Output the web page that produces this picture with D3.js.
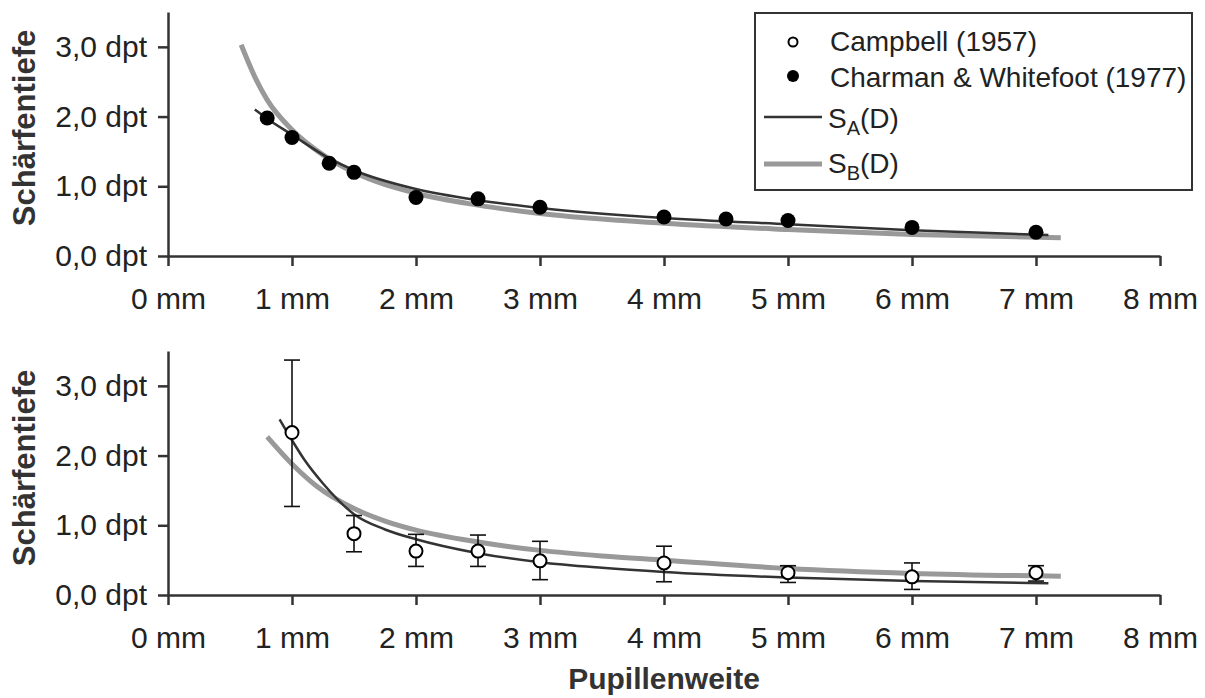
<!DOCTYPE html>
<html>
<head>
<meta charset="utf-8">
<script src="https://cdn.jsdelivr.net/npm/d3@7"></script>
<style>
  body { margin: 0; background: #fff; }
  text { font-family: "Liberation Sans", Arial, sans-serif; fill: #222; }
</style>
</head>
<body>
<div id="chart"></div>
<script>
var svgWidth = 1205;
var svgHeight = 698;

// tick values
var xTicks = [0, 1, 2, 3, 4, 5, 6, 7, 8];
var yTicks = [0, 1, 2, 3];

// Charman & Whitefoot (1977), top panel
var charmanD = [0.8, 1.0, 1.3, 1.5, 2.0, 2.5, 3.0, 4.0, 4.5, 5.0, 6.0, 7.0];
var charmanS = [1.98, 1.70, 1.33, 1.20, 0.84, 0.82, 0.70, 0.56, 0.53, 0.51, 0.41, 0.34];

// Campbell (1957), bottom panel, with error range
var campbellD = [1.0, 1.5, 2.0, 2.5, 3.0, 4.0, 5.0, 6.0, 7.0];
var campbellS = [2.33, 0.88, 0.63, 0.63, 0.49, 0.46, 0.32, 0.26, 0.32];
var campbellLo = [1.27, 0.62, 0.41, 0.41, 0.22, 0.19, 0.18, 0.08, 0.20];
var campbellHi = [3.37, 1.14, 0.87, 0.86, 0.77, 0.70, 0.42, 0.46, 0.42];

// fitted curves
var topAD = [0.7, 0.8, 1.0, 1.3, 1.5, 2.0, 2.5, 3.0, 4.0, 5.0, 6.0, 7.1];
var topAS = [2.10, 1.97, 1.74, 1.40, 1.23, 0.96, 0.80, 0.69, 0.545, 0.455, 0.37, 0.30];
var topBD = [0.59, 0.7, 0.8, 1.0, 1.25, 1.5, 2.0, 2.5, 3.0, 4.0, 5.0, 6.0, 7.2];
var topBS = [3.03, 2.57, 2.24, 1.81, 1.45, 1.20, 0.90, 0.73, 0.61, 0.47, 0.38, 0.31, 0.26];

var botAD = [0.9, 1.0, 1.1, 1.25, 1.5, 1.75, 2.0, 2.5, 3.0, 3.5, 4.0, 5.0, 6.0, 7.1];
var botAS = [2.52, 2.22, 1.94, 1.60, 1.16, 0.94, 0.80, 0.60, 0.47, 0.39, 0.33, 0.25, 0.20, 0.17];
var botBD = [0.8, 1.0, 1.2, 1.5, 1.75, 2.0, 2.5, 3.0, 3.5, 4.0, 5.0, 6.0, 7.2];
var botBS = [2.27, 1.88, 1.56, 1.24, 1.06, 0.93, 0.76, 0.64, 0.56, 0.50, 0.38, 0.31, 0.27];

var legendLabels = ["Campbell (1957)", "Charman & Whitefoot (1977)"];

var svg = d3.select("#chart")
    .append("svg")
    .attr("width", svgWidth)
    .attr("height", svgHeight);

var xScale = d3.scaleLinear().domain([0, 8]).range([168, 1160]);

var axisColor = "#333";
var zip = (a, b) => a.map((v, i) => [v, b[i]]);

function drawPanel(y0, y1, curveA, curveB) {
    var yScale = d3.scaleLinear().domain([0, 3.5]).range([y0, y1]);

    var g = svg.append("g");

    var xAxis = g.append("g")
        .attr("transform", `translate(0, ${y0})`)
        .call(d3.axisBottom(xScale)
            .tickValues(xTicks)
            .tickSize(10)
            .tickSizeOuter(0)
            .tickPadding(22)
            .tickFormat(d => d + " mm"));

    var yAxis = g.append("g")
        .attr("transform", `translate(168, 0)`)
        .call(d3.axisLeft(yScale)
            .tickValues(yTicks)
            .tickSize(10)
            .tickSizeOuter(0)
            .tickPadding(11)
            .tickFormat(d => d3.format(".1f")(d).replace(".", ",") + " dpt"));

    [xAxis, yAxis].forEach(function(a) {
        a.attr("color", axisColor)
            .attr("font-size", 30)
            .attr("font-family", null);
        a.selectAll("path, line").attr("stroke-width", 2.5);
        a.selectAll("text").style("fill", "#222");
    });

    var line = d3.line()
        .x(d => xScale(d[0]))
        .y(d => yScale(d[1]))
        .curve(d3.curveMonotoneX);

    g.append("path")
        .attr("d", line(curveB))
        .attr("fill", "none")
        .attr("stroke", "#999")
        .attr("stroke-width", 5);

    g.append("path")
        .attr("d", line(curveA))
        .attr("fill", "none")
        .attr("stroke", "#333")
        .attr("stroke-width", 2.5);

    return { g: g, yScale: yScale };
}

// top panel
var topPanel = drawPanel(256, 12, zip(topAD, topAS), zip(topBD, topBS));
topPanel.g.selectAll(".cw")
    .data(zip(charmanD, charmanS))
    .enter()
    .append("circle")
    .attr("cx", d => xScale(d[0]))
    .attr("cy", d => topPanel.yScale(d[1]))
    .attr("r", 7.5)
    .attr("fill", "#000");

// bottom panel
var botPanel = drawPanel(595, 351, zip(botAD, botAS), zip(botBD, botBS));
var campbell = campbellD.map((d, i) => ({ d: d, s: campbellS[i], lo: campbellLo[i], hi: campbellHi[i] }));

var eb = botPanel.g.selectAll(".eb")
    .data(campbell)
    .enter()
    .append("g")
    .attr("stroke", "#111")
    .attr("stroke-width", 1.6);
eb.append("line")
    .attr("x1", d => xScale(d.d)).attr("x2", d => xScale(d.d))
    .attr("y1", d => botPanel.yScale(d.lo)).attr("y2", d => botPanel.yScale(d.hi));
eb.append("line")
    .attr("x1", d => xScale(d.d) - 8).attr("x2", d => xScale(d.d) + 8)
    .attr("y1", d => botPanel.yScale(d.lo)).attr("y2", d => botPanel.yScale(d.lo));
eb.append("line")
    .attr("x1", d => xScale(d.d) - 8).attr("x2", d => xScale(d.d) + 8)
    .attr("y1", d => botPanel.yScale(d.hi)).attr("y2", d => botPanel.yScale(d.hi));

botPanel.g.selectAll(".cb")
    .data(campbell)
    .enter()
    .append("circle")
    .attr("cx", d => xScale(d.d))
    .attr("cy", d => botPanel.yScale(d.s))
    .attr("r", 6.5)
    .attr("fill", "#fff")
    .attr("stroke", "#000")
    .attr("stroke-width", 2);

// axis titles
[128, 468].forEach(function(cy) {
    svg.append("text")
        .attr("transform", `translate(35, ${cy}) rotate(-90)`)
        .attr("text-anchor", "middle")
        .attr("font-size", 31)
        .attr("font-weight", "bold")
        .style("fill", "#333")
        .text("Schärfentiefe");
});

svg.append("text")
    .attr("x", 664)
    .attr("y", 689)
    .attr("text-anchor", "middle")
    .attr("font-size", 30)
    .attr("font-weight", "bold")
    .style("fill", "#333")
    .text("Pupillenweite");

// legend
var leg = svg.append("g");
leg.append("rect")
    .attr("x", 755).attr("y", 13)
    .attr("width", 437).attr("height", 177)
    .attr("fill", "#fff")
    .attr("stroke", "#333")
    .attr("stroke-width", 2);

leg.append("circle")
    .attr("cx", 793).attr("cy", 42).attr("r", 4.5)
    .attr("fill", "#fff").attr("stroke", "#000").attr("stroke-width", 2);
leg.append("circle")
    .attr("cx", 793).attr("cy", 76).attr("r", 6)
    .attr("fill", "#000");

leg.selectAll(".lt")
    .data(legendLabels)
    .enter()
    .append("text")
    .attr("x", 830)
    .attr("y", (d, i) => 51 + i * 36)
    .attr("font-size", 28)
    .text(d => d);

leg.append("line")
    .attr("x1", 764).attr("x2", 822).attr("y1", 117).attr("y2", 117)
    .attr("stroke", "#333").attr("stroke-width", 2.5);
leg.append("line")
    .attr("x1", 764).attr("x2", 822).attr("y1", 164).attr("y2", 164)
    .attr("stroke", "#999").attr("stroke-width", 5);

[["A", 128], ["B", 173]].forEach(function(r) {
    var t = leg.append("text")
        .attr("x", 828)
        .attr("y", r[1])
        .attr("font-size", 28);
    t.append("tspan").text("S");
    t.append("tspan").attr("font-size", 20).attr("dy", 7).text(r[0]);
    t.append("tspan").attr("dy", -7).text("(D)");
});
</script>
</body>
</html>
